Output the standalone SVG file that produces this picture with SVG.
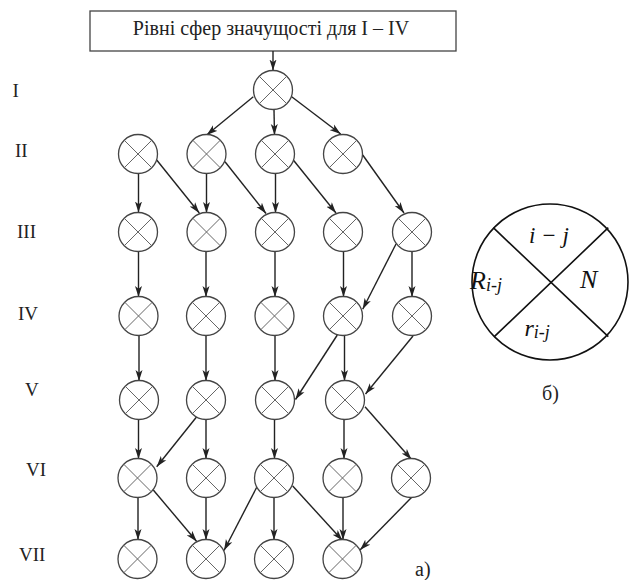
<svg xmlns="http://www.w3.org/2000/svg" width="632" height="580" viewBox="0 0 632 580">
<style>
.nd circle{fill:#fff;stroke:#444;stroke-width:1.3}
.nd path{fill:none;stroke:#666;stroke-width:1}
.lbl{font-family:"Liberation Serif","DejaVu Serif","Times New Roman",serif;font-size:19px;fill:#222}
.cn line{stroke:#222;stroke-width:1.4;marker-end:url(#ah)}
.it{font-family:"Liberation Serif","DejaVu Serif","Times New Roman",serif;font-style:italic;fill:#111}
</style>
<defs>
<marker id="ah" markerUnits="userSpaceOnUse" markerWidth="11" markerHeight="8" refX="11" refY="4" orient="auto">
<path d="M0,0.5 L11,4 L0,7.5 L2.8,4 z" fill="#222"/>
</marker>
</defs>
<rect width="632" height="580" fill="#fff"/>
<g id="title">
<rect x="90" y="11" width="366" height="40" fill="#fff" stroke="#444" stroke-width="1.3"/>
<text class="lbl" x="271" y="34.5" text-anchor="middle" style="font-size:20px">Рівні сфер значущості для I – IV</text>
</g>
<g id="levels">
<text class="lbl" x="12.5" y="97">I</text>
<text class="lbl" x="15" y="157">II</text>
<text class="lbl" x="17" y="238">III</text>
<text class="lbl" x="18" y="320">IV</text>
<text class="lbl" x="25" y="396">V</text>
<text class="lbl" x="26" y="476">VI</text>
<text class="lbl" x="19" y="561">VII</text>
</g>
<g id="connectors" class="cn">
<line x1="273" y1="51" x2="273" y2="70.5"/>
<line x1="253.3" y1="96.7" x2="206.7" y2="135"/>
<line x1="274" y1="110" x2="274.5" y2="135"/>
<line x1="291.7" y1="96.7" x2="340.7" y2="134"/>
<line x1="138.5" y1="173" x2="138.5" y2="212.5"/>
<line x1="156.7" y1="160" x2="199.3" y2="213"/>
<line x1="206.5" y1="173" x2="206.5" y2="213"/>
<line x1="225" y1="161.7" x2="266" y2="213.5"/>
<line x1="275.5" y1="173" x2="275.5" y2="213"/>
<line x1="293.3" y1="160" x2="336" y2="213"/>
<line x1="362.7" y1="155" x2="404" y2="213"/>
<line x1="138.5" y1="251" x2="138.5" y2="297"/>
<line x1="206" y1="251" x2="206" y2="297"/>
<line x1="275" y1="251" x2="275" y2="297"/>
<line x1="343.5" y1="251" x2="343.5" y2="297"/>
<line x1="396" y1="244" x2="362.7" y2="309.3"/>
<line x1="412" y1="251" x2="412" y2="297"/>
<line x1="139" y1="335" x2="139" y2="381"/>
<line x1="206" y1="335" x2="206" y2="381"/>
<line x1="275" y1="335" x2="275" y2="381"/>
<line x1="337.3" y1="335" x2="295.5" y2="399.5"/>
<line x1="344.5" y1="335" x2="344.5" y2="381"/>
<line x1="413" y1="336" x2="365.5" y2="394"/>
<line x1="138.5" y1="419" x2="138.5" y2="459"/>
<line x1="196.7" y1="416.7" x2="156.7" y2="466.7"/>
<line x1="206" y1="419" x2="206" y2="459"/>
<line x1="274.5" y1="419" x2="274.5" y2="459"/>
<line x1="344" y1="419" x2="344" y2="459"/>
<line x1="365" y1="406.7" x2="411.5" y2="459.5"/>
<line x1="138" y1="497" x2="138" y2="540"/>
<line x1="153.3" y1="490" x2="196.7" y2="541.5"/>
<line x1="206" y1="497" x2="206" y2="540"/>
<line x1="256.7" y1="487.3" x2="224" y2="550.5"/>
<line x1="274" y1="497" x2="274" y2="540"/>
<line x1="292.7" y1="486" x2="342.5" y2="540.5"/>
<line x1="343" y1="497" x2="343" y2="540"/>
<line x1="411.7" y1="497.3" x2="360" y2="550"/>
</g>
<g id="n-I-1" class="nd" transform="translate(273,90)"><circle r="19.5"/><path d="M-13.8,-13.8L13.8,13.8M13.8,-13.8L-13.8,13.8"/></g>
<g id="n-II-1" class="nd" transform="translate(138,154)"><circle r="19.5"/><path d="M-13.8,-13.8L13.8,13.8M13.8,-13.8L-13.8,13.8"/></g>
<g id="n-II-2" class="nd" transform="translate(206.5,154)"><circle r="19.5"/><path d="M-13.8,-13.8L13.8,13.8M13.8,-13.8L-13.8,13.8"/></g>
<g id="n-II-3" class="nd" transform="translate(275,154)"><circle r="19.5"/><path d="M-13.8,-13.8L13.8,13.8M13.8,-13.8L-13.8,13.8"/></g>
<g id="n-II-4" class="nd" transform="translate(343,154)"><circle r="19.5"/><path d="M-13.8,-13.8L13.8,13.8M13.8,-13.8L-13.8,13.8"/></g>
<g id="n-III-1" class="nd" transform="translate(138,232)"><circle r="19.5"/><path d="M-13.8,-13.8L13.8,13.8M13.8,-13.8L-13.8,13.8"/></g>
<g id="n-III-2" class="nd" transform="translate(206.5,232)"><circle r="19.5"/><path d="M-13.8,-13.8L13.8,13.8M13.8,-13.8L-13.8,13.8"/></g>
<g id="n-III-3" class="nd" transform="translate(275,232)"><circle r="19.5"/><path d="M-13.8,-13.8L13.8,13.8M13.8,-13.8L-13.8,13.8"/></g>
<g id="n-III-4" class="nd" transform="translate(343,232)"><circle r="19.5"/><path d="M-13.8,-13.8L13.8,13.8M13.8,-13.8L-13.8,13.8"/></g>
<g id="n-III-5" class="nd" transform="translate(412,232)"><circle r="19.5"/><path d="M-13.8,-13.8L13.8,13.8M13.8,-13.8L-13.8,13.8"/></g>
<g id="n-IV-1" class="nd" transform="translate(138.5,316)"><circle r="19.5"/><path d="M-13.8,-13.8L13.8,13.8M13.8,-13.8L-13.8,13.8"/></g>
<g id="n-IV-2" class="nd" transform="translate(206,316)"><circle r="19.5"/><path d="M-13.8,-13.8L13.8,13.8M13.8,-13.8L-13.8,13.8"/></g>
<g id="n-IV-3" class="nd" transform="translate(274.5,316)"><circle r="19.5"/><path d="M-13.8,-13.8L13.8,13.8M13.8,-13.8L-13.8,13.8"/></g>
<g id="n-IV-4" class="nd" transform="translate(343,316)"><circle r="19.5"/><path d="M-13.8,-13.8L13.8,13.8M13.8,-13.8L-13.8,13.8"/></g>
<g id="n-IV-5" class="nd" transform="translate(412,316)"><circle r="19.5"/><path d="M-13.8,-13.8L13.8,13.8M13.8,-13.8L-13.8,13.8"/></g>
<g id="n-V-1" class="nd" transform="translate(139,400)"><circle r="19.5"/><path d="M-13.8,-13.8L13.8,13.8M13.8,-13.8L-13.8,13.8"/></g>
<g id="n-V-2" class="nd" transform="translate(206,400)"><circle r="19.5"/><path d="M-13.8,-13.8L13.8,13.8M13.8,-13.8L-13.8,13.8"/></g>
<g id="n-V-3" class="nd" transform="translate(275,400)"><circle r="19.5"/><path d="M-13.8,-13.8L13.8,13.8M13.8,-13.8L-13.8,13.8"/></g>
<g id="n-V-4" class="nd" transform="translate(345,400)"><circle r="19.5"/><path d="M-13.8,-13.8L13.8,13.8M13.8,-13.8L-13.8,13.8"/></g>
<g id="n-VI-1" class="nd" transform="translate(137.5,478)"><circle r="19.5"/><path d="M-13.8,-13.8L13.8,13.8M13.8,-13.8L-13.8,13.8"/></g>
<g id="n-VI-2" class="nd" transform="translate(206,478)"><circle r="19.5"/><path d="M-13.8,-13.8L13.8,13.8M13.8,-13.8L-13.8,13.8"/></g>
<g id="n-VI-3" class="nd" transform="translate(274,478)"><circle r="19.5"/><path d="M-13.8,-13.8L13.8,13.8M13.8,-13.8L-13.8,13.8"/></g>
<g id="n-VI-4" class="nd" transform="translate(342.5,478)"><circle r="19.5"/><path d="M-13.8,-13.8L13.8,13.8M13.8,-13.8L-13.8,13.8"/></g>
<g id="n-VI-5" class="nd" transform="translate(411,478)"><circle r="19.5"/><path d="M-13.8,-13.8L13.8,13.8M13.8,-13.8L-13.8,13.8"/></g>
<g id="n-VII-1" class="nd" transform="translate(137.5,559)"><circle r="19.5"/><path d="M-13.8,-13.8L13.8,13.8M13.8,-13.8L-13.8,13.8"/></g>
<g id="n-VII-2" class="nd" transform="translate(206,559)"><circle r="19.5"/><path d="M-13.8,-13.8L13.8,13.8M13.8,-13.8L-13.8,13.8"/></g>
<g id="n-VII-3" class="nd" transform="translate(274,559)"><circle r="19.5"/><path d="M-13.8,-13.8L13.8,13.8M13.8,-13.8L-13.8,13.8"/></g>
<g id="n-VII-4" class="nd" transform="translate(342.5,559)"><circle r="19.5"/><path d="M-13.8,-13.8L13.8,13.8M13.8,-13.8L-13.8,13.8"/></g>
<text id="label-a" class="lbl" x="415" y="576" style="font-size:20px">а)</text>
<g id="legend">
<circle cx="550" cy="282" r="78" fill="#fff" stroke="#111" stroke-width="1.6"/>
<path d="M493.3,227.7L608.3,336.7M608.3,227.7L494.3,336.7" fill="none" stroke="#111" stroke-width="1.6"/>
<text class="it" x="549" y="243" text-anchor="middle" style="font-size:23px">i − j</text>
<text class="it" x="470" y="288.5" style="font-size:26px">R<tspan dy="2" style="font-size:18px">i-j</tspan></text>
<text class="it" x="580" y="287.5" style="font-size:26px">N</text>
<text class="it" x="524.5" y="336" style="font-size:24px">r<tspan dy="2" style="font-size:18px">i-j</tspan></text>
</g>
<text id="label-b" class="lbl" x="550.5" y="400" text-anchor="middle" style="font-size:20px">б)</text>
</svg>
